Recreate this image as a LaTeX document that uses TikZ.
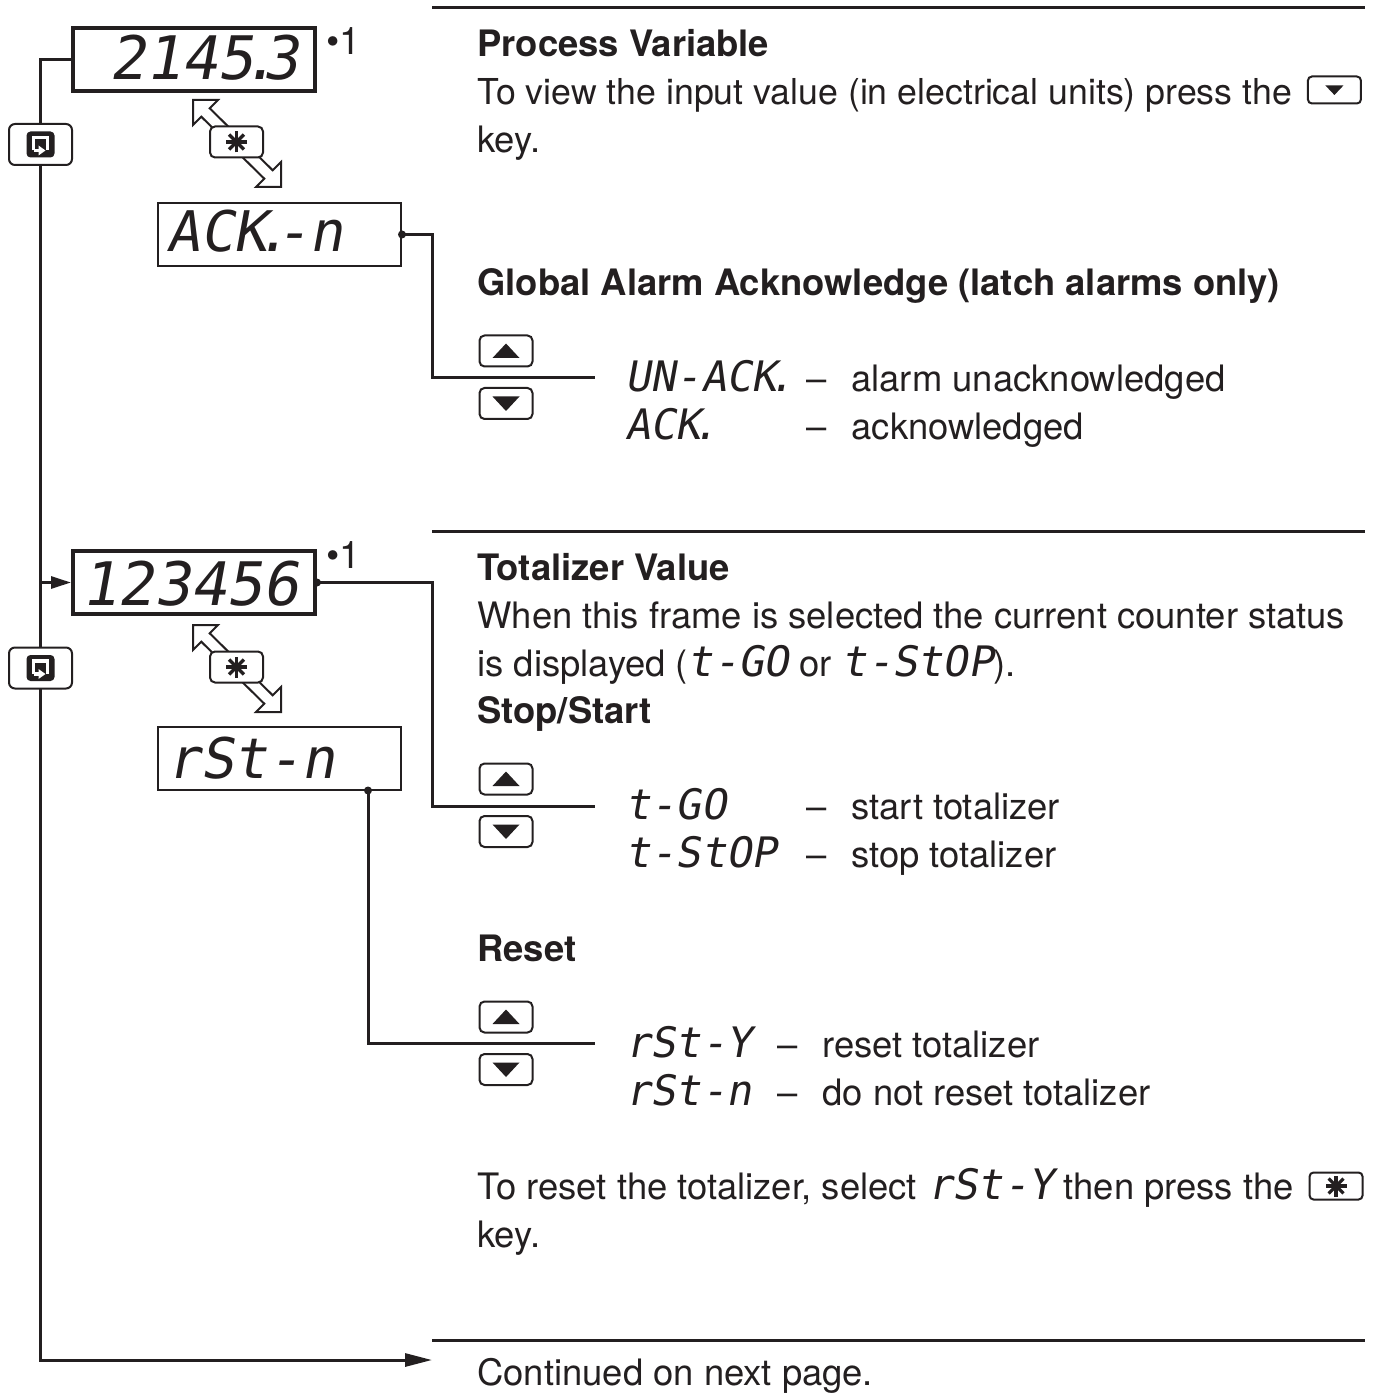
\documentclass[tikz,border=0pt]{standalone}
\usepackage{fontspec}
\setmainfont{TeX Gyre Heros}
\newfontfamily\segfont[FakeSlant=0.18]{DejaVu Sans Mono}
\usetikzlibrary{arrows.meta,calc}
\definecolor{ink}{HTML}{231F20}
\newcommand{\segi}{\segfont\fontsize{21}{24}\selectfont}
\newcommand{\sdot}{\makebox[0.14em][l]{\kern-0.21em.}}
\tikzset{
  txt/.style={anchor=base west, inner sep=0pt, text=ink, font=\fontsize{18.2}{24}\selectfont},
  ttl/.style={anchor=base west, inner sep=0pt, text=ink, font=\fontsize{18.2}{24}\selectfont\bfseries},
  segt/.style={anchor=base west, inner sep=0pt, text=ink, font=\segi},
  bigseg/.style={anchor=base east, inner sep=0pt, text=ink, font=\segfont\fontsize{30}{30}\selectfont},
  midseg/.style={anchor=base west, inner sep=0pt, text=ink, font=\segfont\fontsize{28}{28}\selectfont},
  note/.style={anchor=base west, inner sep=0pt, text=ink, font=\fontsize{19}{19}\selectfont},
  rule/.style={draw=ink, line width=1.5pt},
  conn/.style={draw=ink, line width=1.5pt},
  dthick/.style={draw=ink, line width=2pt, minimum width=121pt, minimum height=31.5pt, inner sep=0pt},
  dthin/.style={draw=ink, line width=1pt, minimum width=121.5pt, minimum height=31.5pt, inner sep=0pt},
  keybox/.style={draw=ink, line width=1pt, rounded corners=2.5pt, fill=white, minimum width=26.5pt, minimum height=15.5pt, inner sep=0pt},
  smallkey/.style={draw=ink, line width=1pt, rounded corners=2pt, fill=white, minimum width=26.5pt, minimum height=13.5pt, inner sep=0pt},
  loopbox/.style={draw=ink, line width=1pt, rounded corners=3pt, fill=white, minimum width=31.5pt, minimum height=20.5pt, inner sep=0pt},
  dot/.style={circle, fill=ink, inner sep=0pt, minimum size=4pt},
  keyup/.pic={\node[keybox] (-b) at (0,0) {}; \fill[ink] (-13.5,7) -- (13.5,7) -- (0,-7.5) -- cycle;},
  keydown/.pic={\node[keybox] (-b) at (0,0) {}; \fill[ink] (-13.5,-7) -- (13.5,-7) -- (0,7.5) -- cycle;},
  keydownsmall/.pic={\node[smallkey] (-b) at (0,0) {}; \fill[ink] (-9,-4.5) -- (9,-4.5) -- (0,5) -- cycle;},
  starsign/.pic={\foreach \a in {0,45,90,135} {\draw[ink, line width=1.6pt] (\a:10.5) -- (\a+180:10.5);}},
  keystar/.pic={\node[keybox] (-b) at (0,0) {}; \pic at (0,0) {starsign};},
  keystarsmall/.pic={\node[smallkey] (-b) at (0,0) {}; \pic at (0,0) {starsign};},
  loopkey/.pic={\node[loopbox] (-b) at (0,0) {};
     \fill[ink, rounded corners=2pt] (-14,-13) rectangle (14,13);
     \draw[white, line width=1.6pt] (-7,6) -- (-7,-7) -- (7,-7) -- (7,6);
     \draw[white, line width=1.6pt] (-7,6) -- (-1,6);
     \fill[white] (-2,1) -- (5,6) -- (-2,11) -- cycle;},
  dblarrow/.pic={\filldraw[fill=white, draw=ink, line width=1pt]
     (0,0) -- (25,0) -- (16.7,8.3) -- (79.7,70.3) -- (88,62) -- (88,87) -- (63,87)
     -- (71.3,78.7) -- (8.3,16.7) -- (0,25) -- cycle;}
}
\begin{document}
\begin{tikzpicture}[x=0.5pt,y=-0.5pt]
\useasboundingbox (0,0) rectangle (1384,1395);

% rules
\draw[rule] (432,8) -- (1365,8);
\draw[rule] (432,531) -- (1365,531);
\draw[rule] (432,1340) -- (1365,1340);

% displays
\node[dthick] (d1) at (194,59.5) {};
\node[dthin] (ack) at (279.5,234.5) {};
\node[dthick] (d2) at (194,582.5) {};
\node[dthin] (rst) at (279.5,758) {};

\node[bigseg] (d1t) at (299,80) {2145\sdot3};
\node[midseg] (ackt) at (166,252) {ACK\sdot-n};
\node[bigseg] (d2t) at (299,605) {123456};
\node[midseg] (rstt) at (166,778) {rSt-n};

\node[note] (n1) at (326,55) {•1};
\node[note] (n2) at (326,568) {•1};

% main loop line
\coordinate (ltop) at (40,59.5);
\coordinate (lmid) at (40,582.5);
\coordinate (lbot) at (40,1360);
\coordinate (lend) at (432,1360);
\draw[conn, -{Triangle[length=13.5pt,width=6.5pt]}] (d1.west) -- (ltop) -- (lbot) -- (lend);
\draw[conn, -{Triangle[length=10pt,width=6pt]}] (lmid) -- (d2.west);

\pic (lk1) at (40.5,144.5) {loopkey};
\pic (lk2) at (40.5,668) {loopkey};

% star transitions
\pic at (193,100) {dblarrow};
\pic (s1) at (236.5,142) {keystar};
\pic at (193,625) {dblarrow};
\pic (s2) at (236.5,667) {keystar};

% connectors to keys
\coordinate (a1) at (432,378);
\coordinate (a2) at (595,378);
\draw[conn] (ack.east) -| (a1) -- (a2);
\node[dot] at (ack.east) {};

\coordinate (b1) at (432,806);
\coordinate (b2) at (595,806);
\draw[conn] (d2.east) -| (b1) -- (b2);
\node[dot] at (d2.east) {};

\coordinate (r0) at ($(rst.south)+(88.5,0)$);
\coordinate (r1) at (368,1043);
\coordinate (r2) at (595,1043);
\draw[conn] (r0) -- (r1) -- (r2);
\node[dot] at (r0) {};

% keys
\pic (u1) at (506,351) {keyup};
\pic (w1) at (506,403.5) {keydown};
\pic (u2) at (506,779) {keyup};
\pic (w2) at (506,831.5) {keydown};
\pic (u3) at (506,1017) {keyup};
\pic (w3) at (506,1069.5) {keydown};

% texts: process variable
\node[ttl] (t1) at (477,57) {Process Variable};
\node[txt, font=\fontsize{17.85}{24}\selectfont] (t2) at (477,105) {To view the input value (in electrical units) press the};
\pic (kd) at ($(t2.base east)+(42,-15)$) {keydownsmall};
\node[txt] (t3) at (477,153) {key.};

\node[ttl] (t4) at (477,296) {Global Alarm Acknowledge (latch alarms only)};
\node[segt] (s11) at (625,392) {UN-ACK\sdot};
\node[txt] (s12) at (806,392) {–};
\node[txt] (s13) at (851,392) {alarm unacknowledged};
\node[segt] (s21) at (625,439) {ACK\sdot};
\node[txt] (s22) at (806,439) {–};
\node[txt] (s23) at (851,439) {acknowledged};

% totalizer
\node[ttl] (t5) at (477,580) {Totalizer Value};
\node[txt] (t6) at (477,628) {When this frame is selected the current counter status};
\node[txt] (t7) at (477,676) {is displayed ({\segi t-GO} or {\segi t-StOP}).};
\node[ttl] (t8) at (477,723) {Stop/Start};
\node[segt] (g11) at (625,819) {t-GO};
\node[txt] (g12) at (806,819) {–};
\node[txt] (g13) at (851,819) {start totalizer};
\node[segt] (g21) at (625,867) {t-StOP};
\node[txt] (g22) at (806,867) {–};
\node[txt] (g23) at (851,867) {stop totalizer};

\node[ttl] (t9) at (477,961) {Reset};
\node[segt] (h11) at (625,1057) {rSt-Y};
\node[txt] (h12) at (777,1057) {–};
\node[txt] (h13) at (822,1057) {reset totalizer};
\node[segt] (h21) at (625,1105) {rSt-n};
\node[txt] (h22) at (777,1105) {–};
\node[txt] (h23) at (822,1105) {do not reset totalizer};

\node[txt] (t10) at (477,1199) {To reset the totalizer, select {\segi rSt-Y} then press the};
\pic (ks) at ($(t10.base east)+(42,-13)$) {keystarsmall};
\node[txt] (t11) at (477,1247) {key.};

\node[txt] (t12) at (477,1385) {Continued on next page.};
\end{tikzpicture}
\end{document}
